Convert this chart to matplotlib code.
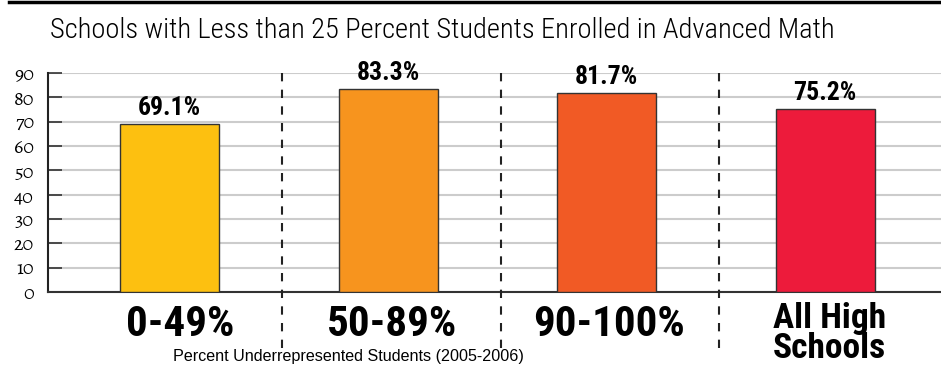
import matplotlib
matplotlib.use("Agg")
import matplotlib.pyplot as plt
from matplotlib.lines import Line2D

categories = ["0-49%", "50-89%", "90-100%", "All High\nSchools"]
values = [69.1, 83.3, 81.7, 75.2]
value_labels = ["69.1%", "83.3%", "81.7%", "75.2%"]
colors = ["#FDC010", "#F7941E", "#F15A25", "#ED1B3B"]
yticks = [0, 10, 20, 30, 40, 50, 60, 70, 80, 90]
title = "Schools with Less than 25 Percent Students Enrolled in Advanced Math"
xlabel = "Percent Underrepresented Students (2005-2006)"

COND = ["Roboto Condensed", "Archivo Narrow", "Barlow Condensed", "DejaVu Sans"]
SERIF = ["Alegreya", "Gelasio", "DejaVu Serif"]
SANS = ["Liberation Sans", "DejaVu Sans"]

W, H = 941, 368
fig = plt.figure(figsize=(W / 100, H / 100), dpi=100)
ax = fig.add_axes([48 / W, 76 / H, 1 - 48 / W, 219 / H])

x = list(range(len(categories)))
ax.bar(x, values, width=0.453, color=colors, edgecolor="#333333", linewidth=1.0, zorder=3)
ax.set_xlim(-0.556, 3.53)
ax.set_ylim(0, 90)
ax.set_yticks(yticks)
ax.set_yticklabels([str(t) for t in yticks], family=SERIF, fontsize=14.5)
ax.yaxis.grid(True, color="#cccccc", linewidth=1.5, zorder=0)
ax.tick_params(axis="y", direction="in", length=10, width=1.2, color="#333333", pad=10)
ax.set_xticks([])
for s in ["top", "right"]:
    ax.spines[s].set_visible(False)
ax.spines["left"].set_linewidth(1.5)
ax.spines["bottom"].set_linewidth(1.5)
ax.spines["left"].set_color("#222222")
ax.spines["bottom"].set_color("#333333")

for xi, v, lab in zip(x, values, value_labels):
    ax.text(xi, v + 1.6, lab, ha="center", va="bottom", fontsize=18.5, fontweight="bold",
            family=COND, zorder=4)

# dashed separators
for xs in [0.5, 1.5, 2.5]:
    ax.plot([xs + 0.015, xs + 0.015], [90, -24], linestyle=(0, (4, 4)), color="#222222",
            linewidth=1.5, clip_on=False, zorder=4)

# category labels
offsets = [0.05, 0.02, 0.01]
for xi, c, off in zip(x[:3], categories[:3], offsets):
    ax.text(xi + off, -5.0, c, ha="center", va="top", fontsize=31, fontweight="black",
            family=COND)
ax.text(x[3] + 0.02, -4.2, categories[3], ha="center", va="top", fontsize=25.5,
        fontweight="black", family=COND, linespacing=0.88)

fig.text(348 / W, 1 - 356 / H, xlabel, ha="center", va="center", fontsize=11.6,
         family=SANS)
fig.text(50 / W, 1 - 30 / H, title, ha="left", va="center", fontsize=20.5,
         family=COND, fontweight="light")
fig.add_artist(Line2D([9 / W, 1], [1 - 1.5 / H, 1 - 1.5 / H], color="black", linewidth=2.5,
                      transform=fig.transFigure))

fig.savefig("out.png", dpi=100)
